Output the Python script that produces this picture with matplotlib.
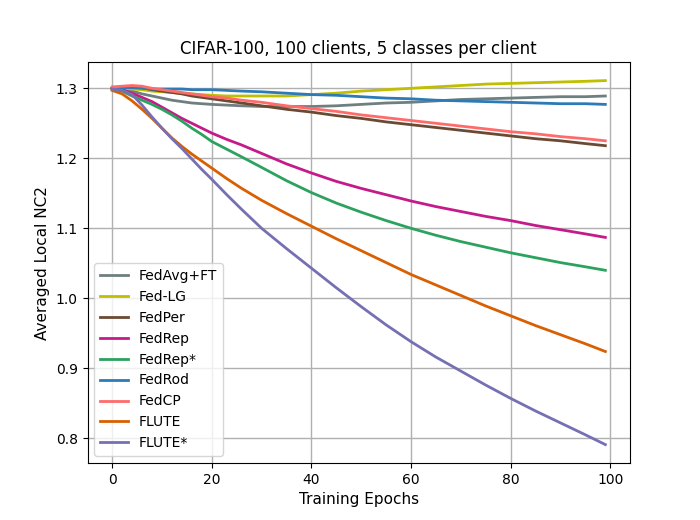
import matplotlib
matplotlib.use("Agg")
import matplotlib.pyplot as plt

epochs = [0, 2, 4, 6, 8, 10, 12, 14, 16, 18, 20, 23, 26, 30, 35, 40, 45, 50,
          55, 60, 65, 70, 75, 80, 85, 90, 95, 99]

fedavg_ft = [1.300, 1.299, 1.296, 1.292, 1.289, 1.286, 1.283, 1.281, 1.279, 1.278,
             1.277, 1.276, 1.275, 1.274, 1.274, 1.274, 1.275, 1.277, 1.279, 1.280,
             1.282, 1.284, 1.285, 1.286, 1.287, 1.288, 1.288, 1.289]
fed_lg = [1.300, 1.300, 1.299, 1.298, 1.296, 1.295, 1.294, 1.293, 1.292, 1.291,
          1.290, 1.289, 1.289, 1.289, 1.289, 1.291, 1.293, 1.296, 1.298, 1.300,
          1.302, 1.304, 1.306, 1.307, 1.308, 1.309, 1.310, 1.311]
fedper = [1.300, 1.302, 1.302, 1.301, 1.298, 1.296, 1.294, 1.292, 1.289, 1.287,
          1.285, 1.282, 1.279, 1.275, 1.270, 1.266, 1.261, 1.257, 1.252, 1.248,
          1.244, 1.240, 1.236, 1.232, 1.228, 1.225, 1.221, 1.218]
fedrep = [1.300, 1.298, 1.293, 1.287, 1.281, 1.273, 1.265, 1.257, 1.250, 1.243,
          1.236, 1.227, 1.219, 1.207, 1.192, 1.179, 1.167, 1.157, 1.148, 1.139,
          1.131, 1.124, 1.117, 1.111, 1.104, 1.098, 1.092, 1.087]
fedrep_star = [1.299, 1.296, 1.289, 1.283, 1.277, 1.270, 1.262, 1.253, 1.243, 1.234,
               1.224, 1.213, 1.202, 1.187, 1.168, 1.151, 1.136, 1.123, 1.111, 1.100,
               1.090, 1.081, 1.073, 1.065, 1.058, 1.051, 1.045, 1.040]
fedrod = [1.300, 1.301, 1.301, 1.300, 1.299, 1.299, 1.299, 1.299, 1.298, 1.298,
          1.298, 1.297, 1.296, 1.295, 1.293, 1.291, 1.290, 1.288, 1.286, 1.285,
          1.283, 1.282, 1.281, 1.280, 1.279, 1.278, 1.278, 1.277]
fedcp = [1.302, 1.303, 1.304, 1.303, 1.300, 1.298, 1.296, 1.294, 1.292, 1.290,
         1.288, 1.286, 1.283, 1.280, 1.275, 1.271, 1.267, 1.262, 1.258, 1.254,
         1.250, 1.246, 1.242, 1.238, 1.235, 1.231, 1.228, 1.225]
flute = [1.297, 1.292, 1.282, 1.270, 1.257, 1.243, 1.229, 1.217, 1.206, 1.196,
         1.186, 1.171, 1.157, 1.140, 1.121, 1.103, 1.085, 1.068, 1.051, 1.034,
         1.019, 1.004, 0.989, 0.975, 0.961, 0.948, 0.935, 0.924]
flute_star = [1.299, 1.297, 1.291, 1.276, 1.259, 1.243, 1.228, 1.214, 1.199, 1.184,
              1.170, 1.148, 1.127, 1.100, 1.071, 1.043, 1.015, 0.988, 0.962, 0.938,
              0.916, 0.896, 0.876, 0.857, 0.839, 0.822, 0.805, 0.791]

labels = ["FedAvg+FT", "Fed-LG", "FedPer", "FedRep", "FedRep*", "FedRod",
          "FedCP", "FLUTE", "FLUTE*"]
series = [fedavg_ft, fed_lg, fedper, fedrep, fedrep_star, fedrod, fedcp, flute, flute_star]
colors = ["#6f7f80", "#bfbf00", "#6b4a33", "#c51b8a", "#2ca25f", "#2c7bb6",
          "#ff6b6b", "#d95f02", "#7570b3"]

fig, ax = plt.subplots(figsize=(7, 5.2), dpi=100)
for lab, ys, c in zip(labels, series, colors):
    ax.plot(epochs, ys, color=c, linewidth=2, label=lab)

ax.set_title("CIFAR-100, 100 clients, 5 classes per client")
ax.set_xlabel("Training Epochs", fontsize=11)
ax.set_ylabel("Averaged Local NC2", fontsize=11)
ax.grid(True, color="#b0b0b0", linewidth=1)
ax.legend(loc="lower left")
fig.savefig("out.png", dpi=100)
